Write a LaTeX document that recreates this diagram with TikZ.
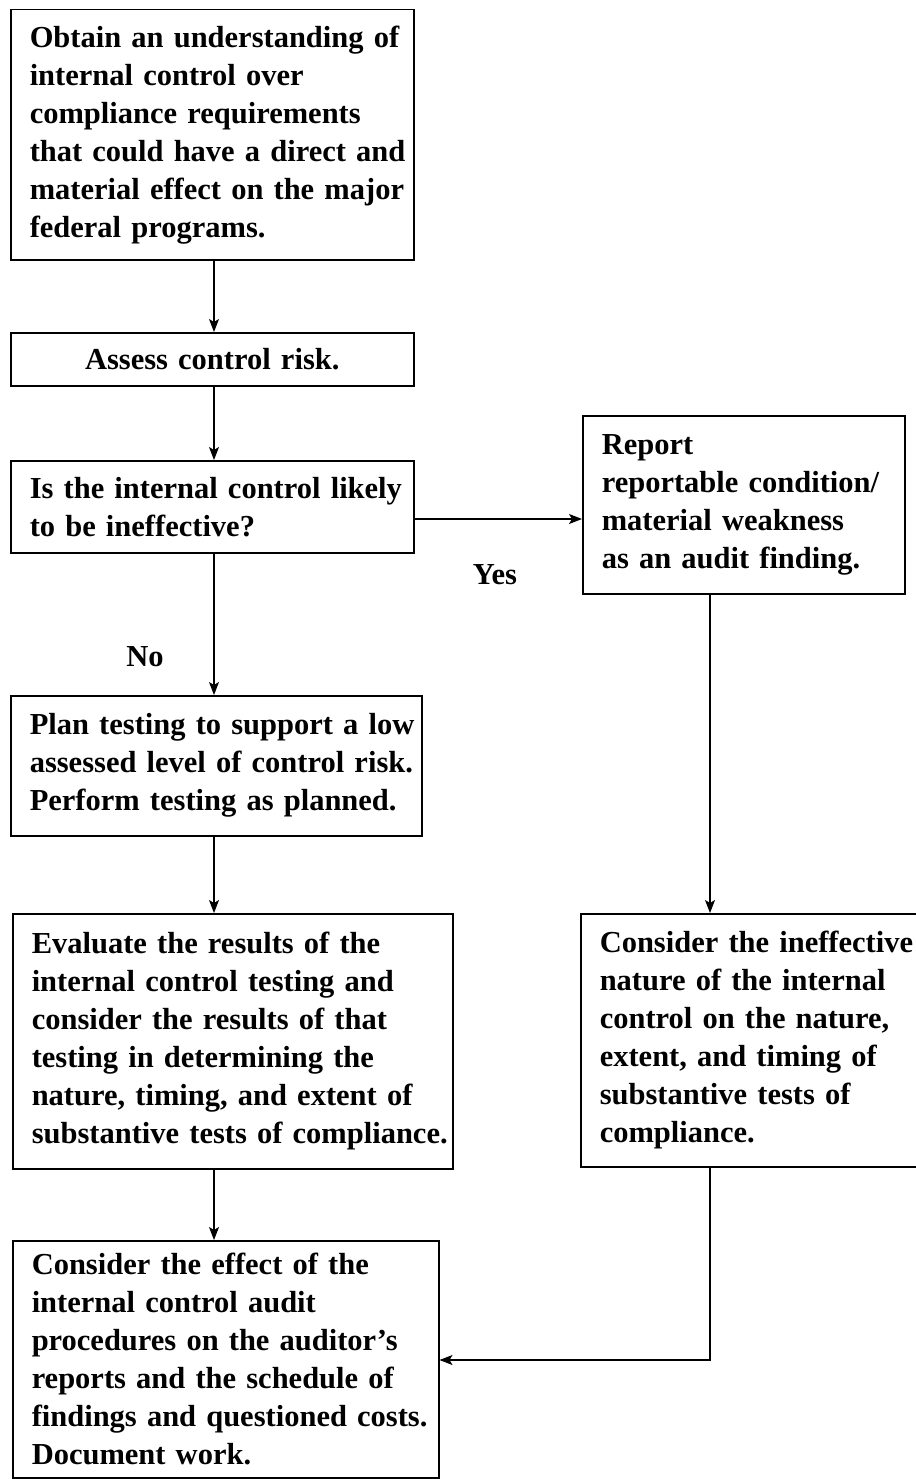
\documentclass[tikz,border=0pt]{standalone}
\usepackage{fontspec}
\setmainfont{Liberation Serif}
\usetikzlibrary{arrows.meta}
\begin{document}
\begin{tikzpicture}[x=1pt,y=-1pt,
  txt/.style={font=\fontsize{30.5}{38}\selectfont\bfseries},
  box/.style={txt, draw, line width=1.5pt, anchor=north west, inner xsep=19pt, inner ysep=0pt, align=left},
  arr/.style={line width=1.1pt, -{Stealth[length=13pt,width=10pt,inset=3pt]}}]
\useasboundingbox (0,0) rectangle (915,1479);
\coordinate (lx) at (214,0);
\coordinate (rx) at (710,0);
\coordinate (yy) at (0,519);
\coordinate (jy) at (0,1360);

\node[box, text width=365pt, minimum height=250pt] (b1) at (10,9)
  {\mbox{Obtain an understanding of}\\ \mbox{internal control over}\\ \mbox{compliance requirements}\\ \mbox{that could have a direct and}\\ \mbox{material effect on the major}\\ \mbox{federal programs.}};
\node[box, text width=365pt, minimum height=53pt, align=center] (b2) at (10,332)
  {Assess control risk.};
\node[box, text width=365pt, minimum height=92pt] (b3) at (10,460)
  {\mbox{Is the internal control likely}\\ \mbox{to be ineffective?}};
\node[box, text width=284pt, minimum height=178pt] (rep) at (582,415)
  {\mbox{Report}\\ \mbox{reportable condition/}\\ \mbox{material weakness}\\ \mbox{as an audit finding.}};
\node[box, text width=373pt, minimum height=140pt] (plan) at (10,695)
  {\mbox{Plan testing to support a low}\\ \mbox{assessed level of control risk.}\\ \mbox{Perform testing as planned.}};
\node[box, text width=402pt, minimum height=255pt] (eval) at (12,913)
  {\mbox{Evaluate the results of the}\\ \mbox{internal control testing and}\\ \mbox{consider the results of that}\\ \mbox{testing in determining the}\\ \mbox{nature, timing, and extent of}\\ \mbox{substantive tests of compliance.}};
\node[box, text width=307pt, minimum height=253pt] (inef) at (580,913)
  {\mbox{Consider the ineffective}\\ \mbox{nature of the internal}\\ \mbox{control on the nature,}\\ \mbox{extent, and timing of}\\ \mbox{substantive tests of}\\ \mbox{compliance.}};
\node[box, text width=388pt, minimum height=237pt] (eff) at (12,1240)
  {\mbox{Consider the effect of the}\\ \mbox{internal control audit}\\ \mbox{procedures on the auditor's}\\ \mbox{reports and the schedule of}\\ \mbox{findings and questioned costs.}\\ \mbox{Document work.}};

\node[txt] (yes) at (495,575) {Yes};
\node[txt] (no) at (145,657) {No};

\draw[arr] (b1.south -| lx) -- (b2.north -| lx);
\draw[arr] (b2.south -| lx) -- (b3.north -| lx);
\draw[arr] (b3.east |- yy) -- (rep.west |- yy);
\draw[arr] (b3.south -| lx) -- (plan.north -| lx);
\draw[arr] (plan.south -| lx) -- (eval.north -| lx);
\draw[arr] (eval.south -| lx) -- (eff.north -| lx);
\draw[arr] (rep.south -| rx) -- (inef.north -| rx);
\draw[arr] (inef.south -| rx) |- (eff.east |- jy);
\end{tikzpicture}
\end{document}
